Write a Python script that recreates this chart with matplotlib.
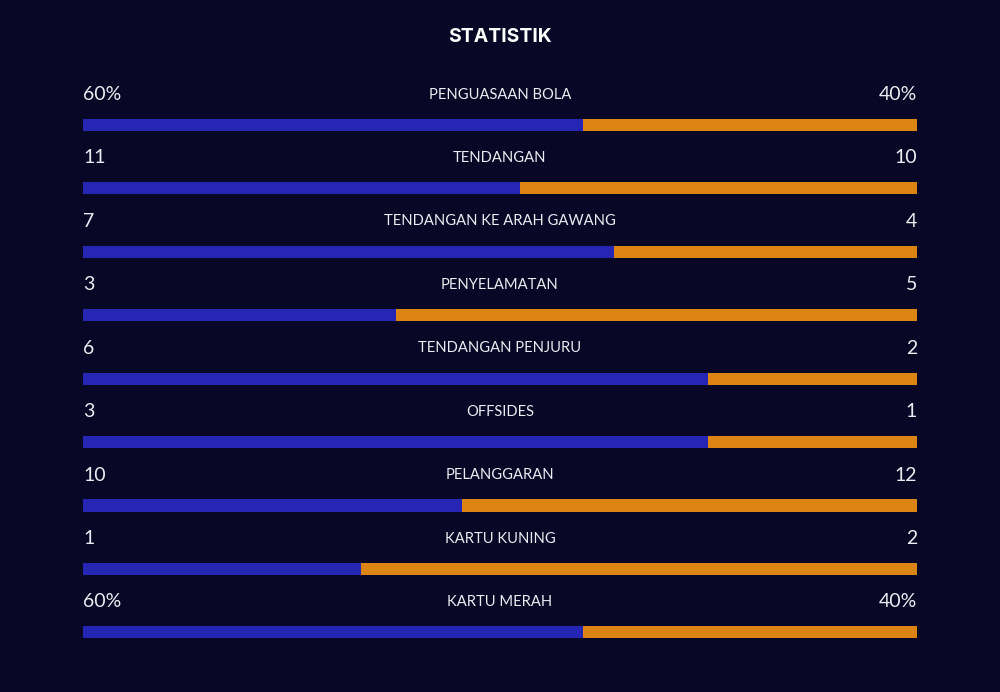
import matplotlib
matplotlib.use("Agg")
import matplotlib.pyplot as plt

categories = ["PENGUASAAN BOLA", "TENDANGAN", "TENDANGAN KE ARAH GAWANG", "PENYELAMATAN",
              "TENDANGAN PENJURU", "OFFSIDES", "PELANGGARAN", "KARTU KUNING", "KARTU MERAH"]
left_values = [60, 11, 7, 3, 6, 3, 10, 1, 60]
right_values = [40, 10, 4, 5, 2, 1, 12, 2, 40]
left_labels = ["60%", "11", "7", "3", "6", "3", "10", "1", "60%"]
right_labels = ["40%", "10", "4", "5", "2", "1", "12", "2", "40%"]

BG = "#080826"
BLUE = "#2626b4"
ORANGE = "#dc8414"
TXT = "#ececf2"

fig = plt.figure(figsize=(10, 6.92), dpi=100, facecolor=BG)
ax = fig.add_axes([0.083, 0, 0.834, 1])
ax.set_facecolor(BG)
ax.set_axis_off()

n = len(categories)
ys = list(range(n))
fracL = [l / (l + r) for l, r in zip(left_values, right_values)]
fracR = [r / (l + r) for l, r in zip(left_values, right_values)]
ax.barh(ys, fracL, left=0, height=0.19, color=BLUE)
ax.barh(ys, fracR, left=fracL, height=0.19, color=ORANGE)

ax.set_xlim(0, 1)
ax.set_ylim(8.94, -1.97)

for y, cat, ll, rl in zip(ys, categories, left_labels, right_labels):
    ty = y - 0.48
    ax.text(0, ty, ll, ha="left", va="center", color=TXT, fontsize=14, family="Lato")
    ax.text(1, ty, rl, ha="right", va="center", color=TXT, fontsize=14, family="Lato")
    ax.text(0.5, ty, cat, ha="center", va="center", color=TXT, fontsize=10.6, family="Lato")

fig.text(0.5, 1 - 36.5 / 692, "STATISTIK", ha="center", va="center", color="white",
         fontsize=14, fontweight="bold", family="Inter")

fig.savefig("out.png", dpi=100, facecolor=BG)
